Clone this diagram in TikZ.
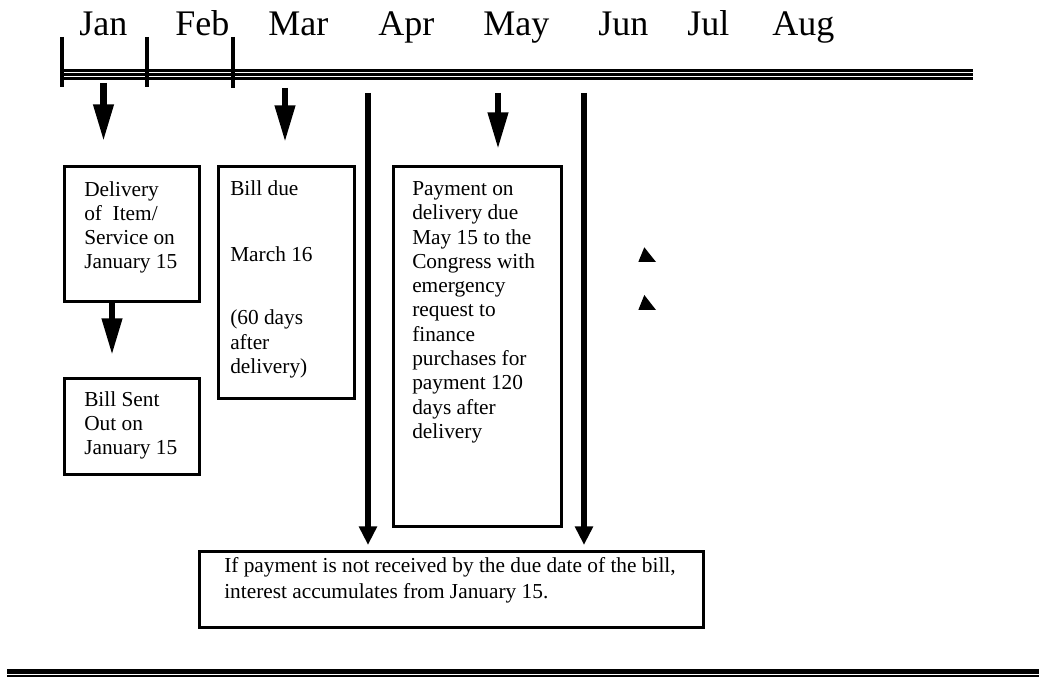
\documentclass[tikz,border=0pt]{standalone}
\usepackage{fontspec}
\setmainfont{Liberation Serif}
\usetikzlibrary{arrows.meta,calc}
\begin{document}
\begin{tikzpicture}[x=0.75pt,y=-0.75pt,
  box/.style={draw,line width=2pt,inner sep=0pt,anchor=north west},
  txt/.style={inner sep=0pt,anchor=base west,font=\fontsize{16}{18}\selectfont},
  month/.style={inner sep=0pt,anchor=base west,font=\fontsize{27}{30}\selectfont},
  shortarrow/.style={line width=4.6pt,-{Triangle[width=14.5pt,length=27.5pt]}},
  longarrow/.style={line width=4.6pt,-{Triangle[width=13pt,length=14pt]}},
  rail/.style={line width=2pt},
  tick/.style={line width=3pt},
  ]
\useasboundingbox (0,0) rectangle (1040,677);

% month labels
\node[month] (jan) at (79,36) {Jan};
\node[month] (feb) at (175,36) {Feb};
\node[month] (mar) at (268,36) {Mar};
\node[month] (apr) at (378,36) {Apr};
\node[month] (may) at (483,36) {May};
\node[month] (jun) at (598,36) {Jun};
\node[month] (jul) at (687,36) {Jul};
\node[month] (aug) at (772,36) {Aug};

% timeline
\coordinate (r1a) at (60,70.3);  \coordinate (r1b) at (973,70.3);
\coordinate (r2a) at (60,74.3);  \coordinate (r2b) at (973,74.3);
\coordinate (r3a) at (60,78.3);  \coordinate (r3b) at (973,78.3);
\draw[rail] (r1a) -- (r1b);
\draw[rail] (r2a) -- (r2b);
\draw[rail] (r3a) -- (r3b);
\coordinate (k1a) at (61.5,37); \coordinate (k1b) at (61.5,87);
\coordinate (k2a) at (147,37);  \coordinate (k2b) at (147,87);
\coordinate (k3a) at (233,37);  \coordinate (k3b) at (233,88);
\draw[tick] (k1a) -- (k1b);
\draw[tick] (k2a) -- (k2b);
\draw[tick] (k3a) -- (k3b);

% boxes
\node[box,minimum width=101.25pt,minimum height=101.25pt] (deliv) at (63,165) {};
\node[box,minimum width=101.25pt,minimum height=72pt] (sent) at (63,377) {};
\node[box,minimum width=102pt,minimum height=174pt] (due) at (217,165) {};
\node[box,minimum width=126pt,minimum height=270pt] (pay) at (392,165) {};
\node[box,minimum width=378pt,minimum height=57pt] (bottom) at (198,550) {};

% box texts
\node[txt] (d1) at (84,197) {Delivery};
\node[txt] (d2) at (84,221) {of\ \ Item/};
\node[txt] (d3) at (84,245) {Service on};
\node[txt] (d4) at (84,269) {January 15};

\node[txt] (s1) at (84,407) {Bill Sent};
\node[txt] (s2) at (84,431) {Out on};
\node[txt] (s3) at (84,455) {January 15};

\node[txt] (u1) at (230,196) {Bill due};
\node[txt] (u2) at (230,262) {March 16};
\node[txt] (u3) at (230,325) {(60 days};
\node[txt] (u4) at (230,350) {after};
\node[txt] (u5) at (230,374) {delivery)};

\node[txt] (p1) at (412,196) {Payment on};
\node[txt] (p2) at (412,220) {delivery due};
\node[txt] (p3) at (412,245) {May 15 to the};
\node[txt] (p4) at (412,269) {Congress with};
\node[txt] (p5) at (412,293) {emergency};
\node[txt] (p6) at (412,317) {request to};
\node[txt] (p7) at (412,342) {finance};
\node[txt] (p8) at (412,366) {purchases for};
\node[txt] (p9) at (412,390) {payment 120};
\node[txt] (p10) at (412,415) {days after};
\node[txt] (p11) at (412,439) {delivery};

\node[txt] (b1) at (224,572) {If payment is not received by the due date of the bill,};
\node[txt] (b2) at (224,598) {interest accumulates from January 15.};

% arrows
\coordinate (aj0) at (103.5,83);  \coordinate (aj1) at (103.5,141);
\coordinate (am0) at (285,88);    \coordinate (am1) at (285,142);
\coordinate (ay0) at (498,93);    \coordinate (ay1) at (498,149);
\coordinate (ds1) at (112,355);
\coordinate (l10) at (368,93);    \coordinate (l11) at (368,545);
\coordinate (l20) at (584,93);    \coordinate (l21) at (584,545);
\draw[shortarrow] (aj0) -- (aj1);
\draw[shortarrow] (am0) -- (am1);
\draw[shortarrow] (ay0) -- (ay1);
\draw[shortarrow] (deliv.south -| ds1) -- (ds1);
\draw[longarrow] (l10) -- (l11);
\draw[longarrow] (l20) -- (l21);

% small triangles
\fill (644.3,247.3) -- (656,262) -- (638.3,262) -- cycle;
\fill (644.3,295) -- (656,310) -- (638.3,310) -- cycle;

% bottom rule
\coordinate (bl0) at (7,671.3);  \coordinate (bl1) at (1039,671.3);
\coordinate (bm0) at (7,675.6);  \coordinate (bm1) at (1039,675.6);
\draw[line width=3.6pt] (bl0) -- (bl1);
\draw[line width=1.4pt] (bm0) -- (bm1);
\end{tikzpicture}
\end{document}
